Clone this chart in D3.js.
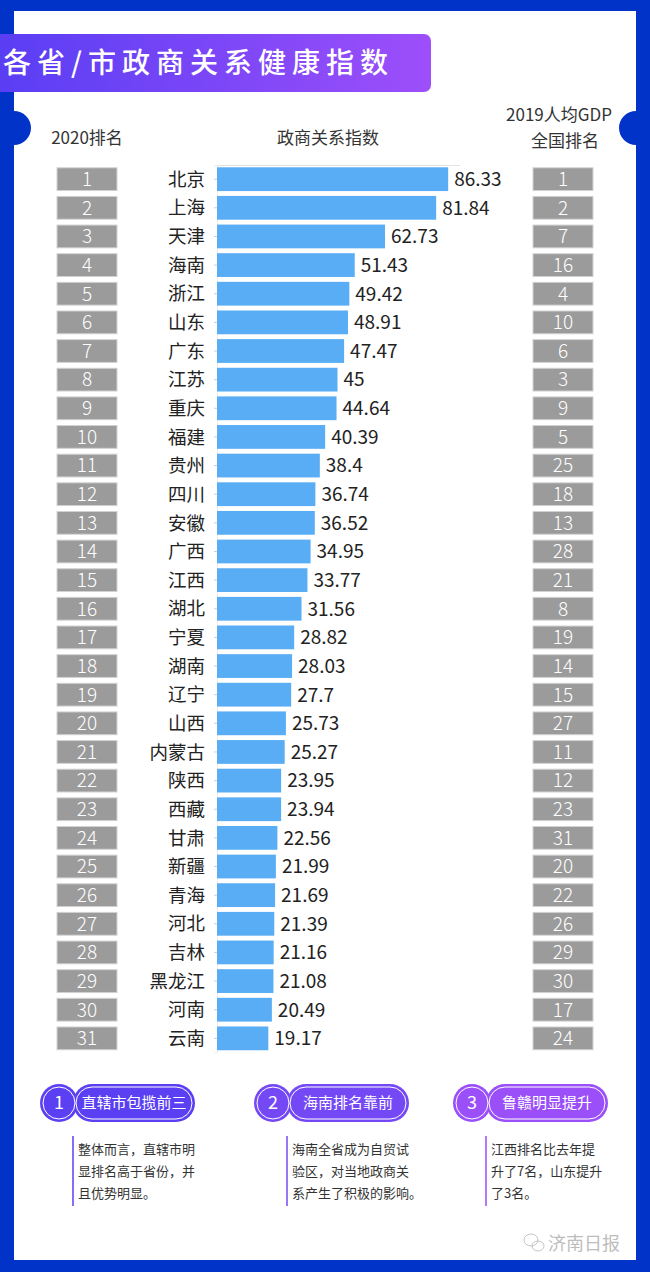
<!DOCTYPE html>
<html><head><meta charset="utf-8">
<script src="https://cdn.jsdelivr.net/npm/d3@7/dist/d3.min.js"></script>
<style>
html,body{margin:0;padding:0;background:#fff;}
svg{display:block;font-family:"Noto Sans CJK SC","Noto Sans",sans-serif;}
</style></head><body>
<script>
const provinces = ["北京","上海","天津","海南","浙江","山东","广东","江苏","重庆","福建","贵州","四川","安徽","广西","江西","湖北","宁夏","湖南","辽宁","山西","内蒙古","陕西","西藏","甘肃","新疆","青海","河北","吉林","黑龙江","河南","云南"];
const indexValues = [86.33,81.84,62.73,51.43,49.42,48.91,47.47,45,44.64,40.39,38.4,36.74,36.52,34.95,33.77,31.56,28.82,28.03,27.7,25.73,25.27,23.95,23.94,22.56,21.99,21.69,21.39,21.16,21.08,20.49,19.17];
const rank2020 = d3.range(1,32);
const gdpRank2019 = [1,2,7,16,4,10,6,3,9,5,25,18,13,28,21,8,19,14,15,27,11,12,23,31,20,22,26,29,30,17,24];
const notes = [
  {num:"1", title:"直辖市包揽前三", lines:["整体而言，直辖市明","显排名高于省份，并","且优势明显。"]},
  {num:"2", title:"海南排名靠前", lines:["海南全省成为自贸试","验区，对当地政商关","系产生了积极的影响。"]},
  {num:"3", title:"鲁赣明显提升", lines:["江西排名比去年提","升了7名，山东提升","了3名。"]}
];

const W=650,H=1272;
const svg=d3.select("body").append("svg").attr("width",W).attr("height",H);
const defs=svg.append("defs");
const g1=defs.append("linearGradient").attr("id","tg").attr("x1","0").attr("x2","1");
g1.append("stop").attr("offset","0").attr("stop-color","#5a3ef4");
g1.append("stop").attr("offset","1").attr("stop-color","#9d4ffa");

// frame
svg.append("rect").attr("width",W).attr("height",H).attr("fill","#0233c9");
svg.append("rect").attr("x",14).attr("y",11).attr("width",622).attr("height",1249).attr("fill","#fff");
svg.append("circle").attr("cx",14).attr("cy",128).attr("r",17).attr("fill","#0233c9");
svg.append("circle").attr("cx",636).attr("cy",128).attr("r",17).attr("fill","#0233c9");

// title banner
svg.append("path").attr("d","M0,34 H424 a7,7 0 0 1 7,7 V85 a7,7 0 0 1 -7,7 H0 Z").attr("fill","url(#tg)");
svg.append("text").attr("x",3).attr("y",73).attr("fill","#fff").attr("font-size",28).attr("font-weight",500)
  .attr("letter-spacing",6).text("各省/市政商关系健康指数");

// headers
const hdr=svg.append("g").attr("fill","#333").attr("font-size",17).attr("text-anchor","middle");
hdr.append("text").attr("x",87).attr("y",144).text("2020排名");
hdr.append("text").attr("x",328).attr("y",144).text("政商关系指数");
hdr.append("text").attr("x",559).attr("y",121).text("2019人均GDP");
hdr.append("text").attr("x",565).attr("y",147).text("全国排名");

// scales
const y=d3.scaleBand().domain(provinces).range([165,165+31*28.63]).paddingInner(0.17).paddingOuter(0.08);
const x=d3.scaleLinear().domain([0,90]).range([217,458]);

// top grid line
svg.append("line").attr("x1",x(0)).attr("x2",x(90)+2).attr("y1",165.5).attr("y2",165.5).attr("stroke","#e3e3e3");
// y axis
const ax=svg.append("g").attr("transform",`translate(${x(0)},0)`).call(d3.axisLeft(y).tickSize(3).tickFormat(""));
ax.select(".domain").attr("stroke","#eeeeee");
ax.selectAll(".tick line").attr("stroke","#cfcfcf");

// bars
svg.append("g").selectAll("rect").data(provinces).join("rect")
  .attr("x",x(0)).attr("y",d=>y(d)).attr("height",y.bandwidth())
  .attr("width",(d,i)=>x(indexValues[i])-x(0)).attr("fill","#58adf4");

// names
svg.append("g").selectAll("text").data(provinces).join("text")
  .attr("x",205).attr("y",d=>y(d)+y.bandwidth()/2).attr("dy","0.36em")
  .attr("text-anchor","end").attr("font-size",18.5).attr("fill","#222").text(d=>d);

// values
svg.append("g").selectAll("text").data(provinces).join("text")
  .attr("x",(d,i)=>x(indexValues[i])+6).attr("y",d=>y(d)+y.bandwidth()/2).attr("dy","0.36em")
  .attr("font-size",19).attr("fill","#222").text((d,i)=>indexValues[i]);

// rank boxes
function boxes(cx, labels){
  const g=svg.append("g");
  g.selectAll("rect").data(provinces).join("rect")
    .attr("x",cx-30).attr("y",d=>y(d)+0.5).attr("width",60).attr("height",y.bandwidth()-1)
    .attr("fill","#9b9b9b").attr("stroke","#d2d2d2").attr("stroke-width",1);
  g.selectAll("text").data(provinces).join("text")
    .attr("x",cx).attr("y",d=>y(d)+y.bandwidth()/2).attr("dy","0.36em")
    .attr("text-anchor","middle").attr("font-size",19).attr("font-weight",300).attr("fill","#fff")
    .text((d,i)=>labels[i]);
}
boxes(87, rank2020);
boxes(563, gdpRank2019);

// notes
const noteX=[59,273,472];
const noteCol=["#5b40f3","#7548f6","#9a4ff8"];
notes.forEach((n,i)=>{
  const cx=noteX[i], cy=1103, c=noteCol[i];
  const g=svg.append("g");
  const pw = 118;
  g.append("rect").attr("x",cx+14).attr("y",cy-19).attr("width",pw+4).attr("height",38).attr("rx",19).attr("fill",c);
  g.append("circle").attr("cx",cx).attr("cy",cy).attr("r",19).attr("fill",c);
  g.append("rect").attr("x",cx+17).attr("y",cy-16).attr("width",pw-2).attr("height",32).attr("rx",16)
    .attr("fill","none").attr("stroke","#fff").attr("stroke-width",1);
  g.append("circle").attr("cx",cx).attr("cy",cy).attr("r",16).attr("fill","none").attr("stroke","#fff").attr("stroke-width",1);
  g.append("text").attr("x",cx).attr("y",cy).attr("dy","0.36em").attr("text-anchor","middle")
    .attr("fill","#fff").attr("font-size",18).text(n.num);
  g.append("text").attr("x",cx+17+(pw-2)/2).attr("y",cy).attr("dy","0.36em").attr("text-anchor","middle")
    .attr("fill","#fff").attr("font-size",15).text(n.title);
  const lx=cx+14;
  g.append("line").attr("x1",lx).attr("x2",lx).attr("y1",1136).attr("y2",1206).attr("stroke",c).attr("stroke-width",1.5);
  n.lines.forEach((t,j)=>{
    g.append("text").attr("x",lx+5).attr("y",1154+j*22).attr("font-size",13).attr("fill","#333").text(t);
  });
});

// watermark
svg.append("text").attr("x",548).attr("y",1250).attr("font-size",18).attr("fill","#bdbdbd").text("济南日报");
const wm=svg.append("g").attr("fill","none").attr("stroke","#c4c4c4").attr("stroke-width",1);
wm.append("ellipse").attr("cx",531).attr("cy",1240).attr("rx",7).attr("ry",6);
wm.append("ellipse").attr("cx",538).attr("cy",1246).attr("rx",6).attr("ry",5);
</script>
</body></html>
